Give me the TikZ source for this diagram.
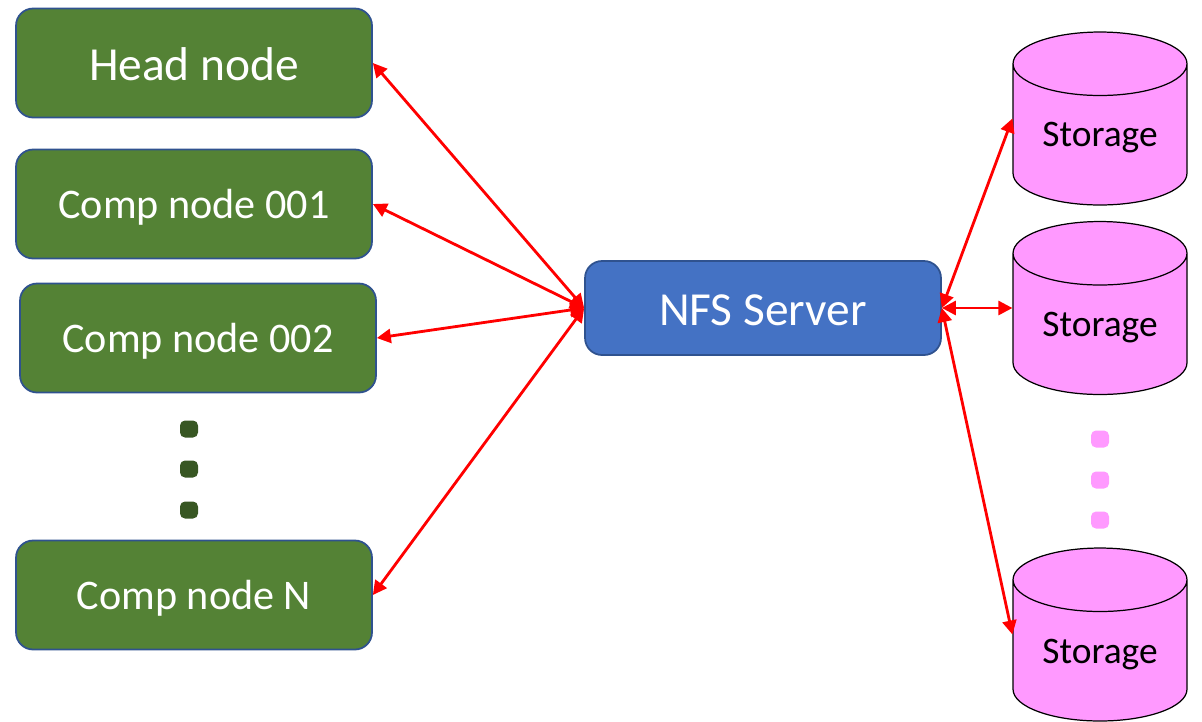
\documentclass[tikz,border=0pt]{standalone}
\usepackage{xcolor}
\usepackage{fontspec}
\setmainfont{Carlito}
\usepackage{tikz}
\usetikzlibrary{arrows.meta}
\usetikzlibrary{shapes.geometric}
\definecolor{nodegreen}{HTML}{548235}
\definecolor{dotgreen}{HTML}{385723}
\definecolor{serverblue}{HTML}{4472C4}
\definecolor{edgeblue}{HTML}{2F528F}
\definecolor{storepink}{HTML}{FF99FF}
\tikzset{
 compbox/.style={rectangle, rounded corners=0.34cm, draw=edgeblue, line width=1pt, fill=nodegreen, text=white, minimum width=7.12cm, minimum height=2.18cm, text height=21pt, text depth=4.5pt, font=\fontsize{24pt}{28pt}\selectfont},
 serverbox/.style={rectangle, rounded corners=0.34cm, draw=edgeblue, line width=1pt, fill=serverblue, text=white, minimum width=7.12cm, minimum height=1.88cm, text height=19.5pt, text depth=0pt, font=\fontsize{27pt}{32pt}\selectfont},
 storedisk/.style={cylinder, shape border rotate=90, aspect=0.5, anchor=shape center, draw=black, line width=0.7pt, fill=storepink, text=black, minimum width=3.48cm, minimum height=3.46cm, text height=15pt, text depth=7.5pt, font=\fontsize{21.3pt}{25pt}\selectfont},
 dotgap/.style={rectangle, rounded corners=0.1cm, minimum width=0.36cm, minimum height=0.34cm, inner sep=0pt},
 link/.style={{Triangle[length=0.28cm, width=0.28cm]}-{Triangle[length=0.28cm, width=0.28cm]}, draw=red, line width=1.6pt}
}
\begin{document}
\begin{tikzpicture}[x=0.02cm, y=-0.02cm]
 \useasboundingbox (0, 0) rectangle (1202, 721);
 \node [compbox, text height=19.5pt, text depth=0pt, font=\fontsize{27pt}{32pt}\selectfont] (head) at (194, 63) {Head node};
 \node [compbox] (comp1) at (194, 204) {Comp node 001};
 \node [compbox] (comp2) at (198, 338) {Comp node 002};
 \node [compbox] (compN) at (194, 595) {Comp node N};
 \node [serverbox] (nfs) at (763, 308) {NFS Server};
 \node [storedisk] (store1) at (1100, 118.5) {Storage};
 \node [storedisk] (store2) at (1100, 308) {Storage};
 \node [storedisk] (store3) at (1100, 634.5) {Storage};
 \node [dotgap, fill=dotgreen] (gdot1) at (189, 429) {};
 \node [dotgap, fill=dotgreen] (gdot2) at (189, 469) {};
 \node [dotgap, fill=dotgreen] (gdot3) at (189, 510) {};
 \node [dotgap, fill=storepink] (pdot1) at (1100, 439) {};
 \node [dotgap, fill=storepink] (pdot2) at (1100, 480) {};
 \node [dotgap, fill=storepink] (pdot3) at (1100, 520) {};
 \draw [link] (head.east) to (nfs.west);
 \draw [link] (comp1.east) to (nfs.west);
 \draw [link] (comp2.east) to (nfs.west);
 \draw [link] (compN.east) to (nfs.west);
 \draw [link] (nfs.east) to (store1.west |- store1.shape center);
 \draw [link] (nfs.east) to (store2.west |- store2.shape center);
 \draw [link] (nfs.east) to (store3.west |- store3.shape center);
\end{tikzpicture}
\end{document}
